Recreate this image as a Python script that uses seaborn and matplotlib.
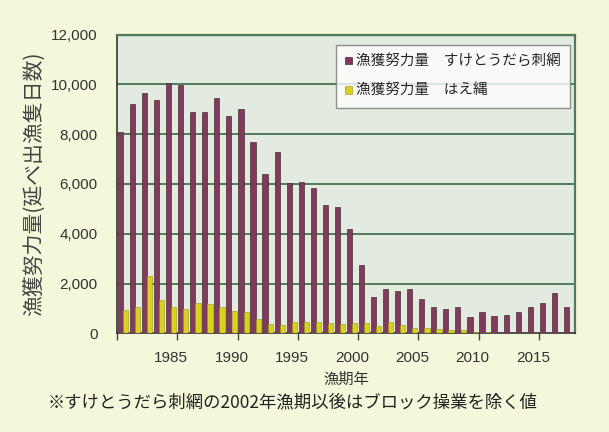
import matplotlib
matplotlib.use("Agg")
import matplotlib.pyplot as plt
import seaborn as sns
import pandas as pd
import numpy as np

years = list(range(1981, 2019))
gillnet = [8100, 9200, 9640, 9350, 10070, 9975, 8880, 8880, 9440, 8730,
           9000, 7690, 6400, 7300, 6025, 6090, 5825, 5155, 5090, 4200,
           2745, 1446, 1767, 1714, 1767, 1380, 1070, 990, 1070, 640,
           870, 700, 735, 855, 1070, 1230, 1600, 1070]
longline = [940, 1045, 2300, 1340, 1045, 965, 1205, 1180, 1045, 910,
            870, 560, 375, 335, 470, 470, 470, 400, 375, 430,
            430, 310, 455, 335, 230, 230, 160, 130, 130, 70,
            40, 30, 30, 25, 20, 20, 20, 10]
series_names = ["漁獲努力量　すけとうだら刺網", "漁獲努力量　はえ縄"]
tick_years = [1985, 1990, 1995, 2000, 2005, 2010, 2015]
yticks = [0, 2000, 4000, 6000, 8000, 10000, 12000]

df = pd.DataFrame({
    "year": [str(y) for y in years] * 2,
    "value": gillnet + longline,
    "series": [series_names[0]] * len(years) + [series_names[1]] * len(years),
})

sns.set_theme(style="white")
plt.rcParams['font.family'] = ['Noto Sans CJK JP', 'DejaVu Sans']

fig = plt.figure(figsize=(6.09, 4.32), dpi=100)
fig.patch.set_facecolor("#f4f7da")
ax = fig.add_axes([117/609, (432-333.3)/432, 458/609, (333.3-34.5)/432])
ax.set_facecolor("#e3ebe1")

sns.barplot(data=df, x="year", y="value", hue="series",
            palette=["#8c2f5c", "#f7ef00"], width=0.86, dodge=True,
            edgecolor="#4a3035", linewidth=0.5, ax=ax, zorder=3)
for p in ax.patches:
    fc = p.get_facecolor()
    if fc[1] > 0.5:
        p.set_edgecolor("#9a9020")
        p.set_linewidth(0.4)

ax.set_ylim(0, 12000)
ax.set_xlim(-0.5, len(years) - 0.5)
ax.set_yticks(yticks)
ax.set_yticklabels([f"{v:,}" for v in yticks], family=['Liberation Sans'], fontsize=11, color="#333333")
for v in yticks[1:-1]:
    ax.axhline(v, color="#4f7d5c", linewidth=1.4, zorder=1)
ax.axhline(12000, color="#4f7d5c", linewidth=1.6, zorder=1)

idx = [years.index(y) for y in tick_years]
ax.set_xticks(idx)
ax.set_xticklabels([str(y) for y in tick_years], family=['Liberation Sans'], fontsize=11, color="#333333")
ax.tick_params(axis="x", which="major", length=0, pad=13)
ax.tick_params(axis="y", which="major", length=0, pad=14)
ax.set_xticks([-0.5 + 5 * k for k in range(8)], minor=True)
ax.tick_params(axis="x", which="minor", length=5, width=1, color="#444444", direction="out", bottom=True)

for s in ["top", "right"]:
    ax.spines[s].set_color("#4f7d5c")
    ax.spines[s].set_linewidth(1.6)
for s in ["left", "bottom"]:
    ax.spines[s].set_color("#333333")
    ax.spines[s].set_linewidth(1.2)

ax.set_ylabel("漁獲努力量(延べ出漁隻日数)", fontsize=15, color="#444444", labelpad=4)
ax.set_xlabel("漁期年", fontsize=11, color="#333333", labelpad=4)

leg = ax.legend(loc="upper right", bbox_to_anchor=(0.99, 0.965), fontsize=10.5,
                frameon=True, fancybox=False, handlelength=0.45, handleheight=0.45,
                handletextpad=0.3, labelspacing=1.05, borderpad=0.65, borderaxespad=0)
leg.get_frame().set_facecolor("white")
leg.get_frame().set_edgecolor("#777777")
leg.get_frame().set_linewidth(1.0)
leg.set_zorder(5)

fig.text(48/609, 1 - 402/432, "※すけとうだら刺網の2002年漁期以後はブロック操業を除く値",
         fontsize=12.5, color="#222222", ha="left", va="center")

fig.savefig("out.png", dpi=100, facecolor=fig.get_facecolor())
